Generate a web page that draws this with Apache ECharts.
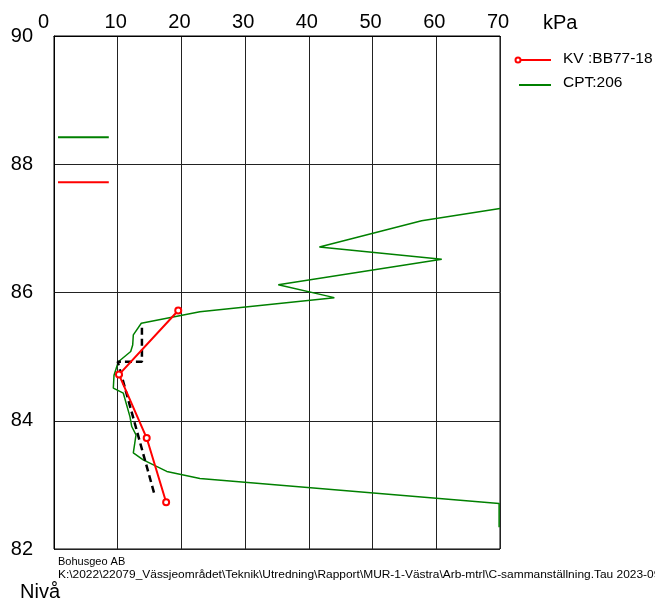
<!DOCTYPE html>
<html><head><meta charset="utf-8">
<script src="https://cdn.jsdelivr.net/npm/echarts/dist/echarts.min.js"></script>
<style>html,body{margin:0;padding:0;background:#fff}#c{width:655px;height:603px}</style>
</head><body><div id="c"></div>
<script>
const xTickLabels = ['0','10','20','30','40','50','60','70'];
const yTickLabels = ['82','84','86','88','90'];
const kvKpa   = [19.5, 10.2, 14.55, 17.6];
const kvLevel = [85.72, 84.72, 83.73, 82.73];
const cptKpa   = [70.0, 57.7, 41.65, 60.86, 35.2, 44.0, 22.9, 13.7, 12.45, 12.35, 12.04, 10.1, 9.42, 9.31, 10.88, 11.93, 12.2, 12.87, 12.45, 14.0, 17.7, 22.9, 69.86, 69.86];
const cptLevel = [87.31, 87.12, 86.71, 86.52, 86.12, 85.92, 85.70, 85.52, 85.34, 85.18, 85.08, 84.92, 84.71, 84.51, 84.43, 84.06, 83.91, 83.78, 83.50, 83.39, 83.21, 83.10, 82.71, 82.34];
const evalKpa   = [13.8, 13.8, 10.0, 15.8];
const evalLevel = [85.45, 84.92, 84.92, 82.84];
const markGreenKpa = [0.63, 8.6];
const markGreenLevel = [88.42, 88.42];
const markRedKpa = [0.63, 8.6];
const markRedLevel = [87.72, 87.72];

const pairs = (xs, ys) => xs.map((x, i) => [x, ys[i]]);
const FONT = 'Liberation Sans, Arial, sans-serif';
const chart = echarts.init(document.getElementById('c'), null, {renderer: 'canvas'});
chart.setOption({
  animation: false,
  backgroundColor: '#fff',
  grid: {left: 54, right: 155, top: 36, bottom: 54, show: true, borderColor: '#000', borderWidth: 1},
  xAxis: {
    type: 'value', position: 'top', min: 0, max: 70, interval: 10,
    axisLine: {show: true, lineStyle: {color: '#000'}},
    axisTick: {show: false},
    splitLine: {show: true, lineStyle: {color: '#222', width: 1}},
    axisLabel: {color: '#000', fontSize: 20, fontFamily: FONT, margin: 4,
      formatter: v => { const i = Math.round(v / 10); return (i === 0 ? '{z|' : '{n|') + xTickLabels[i] + '}'; },
      rich: {
        n: {fontSize: 20, fontFamily: FONT, color: '#000', padding: [0, 4, 0, 0]},
        z: {fontSize: 20, fontFamily: FONT, color: '#000', padding: [0, 21, 0, 0]}
      }}
  },
  yAxis: {
    type: 'value', min: 82, max: 90, interval: 2,
    axisLine: {show: true, lineStyle: {color: '#000'}},
    axisTick: {show: false},
    splitLine: {show: true, lineStyle: {color: '#222', width: 1}},
    axisLabel: {color: '#000', fontSize: 20, fontFamily: FONT, margin: 21,
      formatter: v => yTickLabels[Math.round((v - 82) / 2)]}
  },
  series: [
    {type: 'line', data: pairs(cptKpa, cptLevel), symbol: 'none', lineStyle: {color: '#008000', width: 1.5}, z: 2},
    {type: 'line', data: pairs(evalKpa, evalLevel), symbol: 'none', lineStyle: {color: '#000', width: 2.5, type: [7, 4]}, z: 3},
    {type: 'line', data: pairs(kvKpa, kvLevel), symbol: 'emptyCircle', symbolSize: 6, itemStyle: {color: '#ff0000', borderWidth: 2}, lineStyle: {color: '#ff0000', width: 2}, z: 4},
    {type: 'line', data: pairs(markGreenKpa, markGreenLevel), symbol: 'none', lineStyle: {color: '#008000', width: 2}},
    {type: 'line', data: pairs(markRedKpa, markRedLevel), symbol: 'none', lineStyle: {color: '#ff0000', width: 2}}
  ],
  graphic: [
    {type: 'text', left: 543, top: 13, style: {text: 'kPa', fontSize: 20, fontFamily: FONT, fill: '#000'}},
    {type: 'line', shape: {x1: 517, y1: 60, x2: 551, y2: 60}, style: {stroke: '#ff0000', lineWidth: 2}},
    {type: 'circle', shape: {cx: 518, cy: 60, r: 2.5}, style: {stroke: '#ff0000', fill: '#fff', lineWidth: 2}},
    {type: 'text', left: 563, top: 51, style: {text: 'KV :BB77-18', fontSize: 15.5, fontFamily: FONT, fill: '#000'}},
    {type: 'line', shape: {x1: 519, y1: 85, x2: 551, y2: 85}, style: {stroke: '#008000', lineWidth: 2}},
    {type: 'text', left: 563, top: 75, style: {text: 'CPT:206', fontSize: 15.5, fontFamily: FONT, fill: '#000'}},
    {type: 'text', x: 58, y: 556, style: {text: 'Bohusgeo AB', fontSize: 11, fontFamily: FONT, fill: '#000'}},
    {type: 'text', x: 58, y: 569, scaleX: 1.085, style: {text: 'K:\\2022\\22079_Vässjeområdet\\Teknik\\Utredning\\Rapport\\MUR-1-Västra\\Arb-mtrl\\C-sammanställning.Tau 2023-09', fontSize: 11, fontFamily: FONT, fill: '#000'}},
    {type: 'text', left: 20, top: 582, style: {text: 'Nivå', fontSize: 20, fontFamily: FONT, fill: '#000'}}
  ]
});
</script></body></html>
